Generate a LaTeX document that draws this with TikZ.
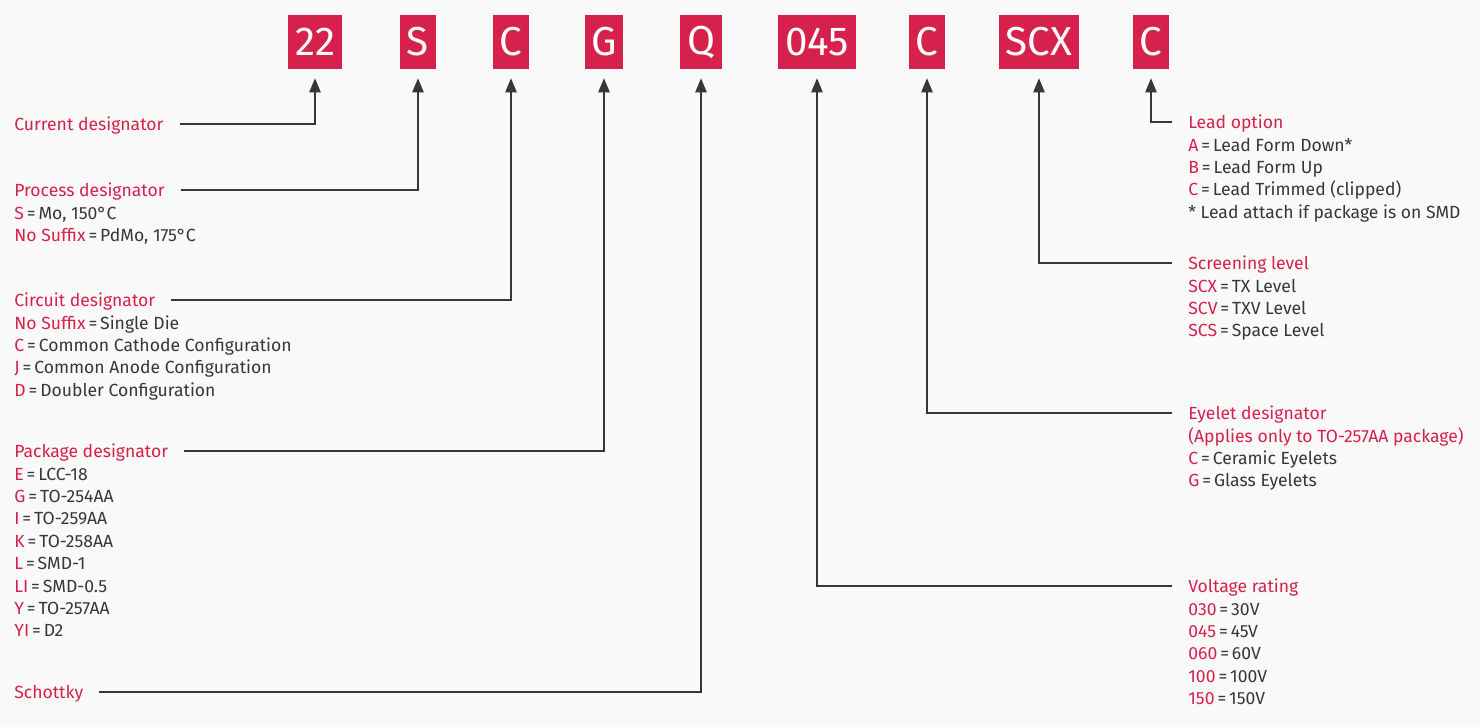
\documentclass[tikz,border=0pt]{standalone}
\usepackage{fontspec}
\setmainfont{Fira Sans}
\usetikzlibrary{arrows.meta, positioning}
\definecolor{crimson}{RGB}{213,33,75}
\definecolor{ink}{RGB}{55,55,55}
\definecolor{paper}{RGB}{249,249,249}
\newcommand{\kv}[2]{\textcolor{crimson}{#1}\,=\,#2}

\begin{document}
\begin{tikzpicture}[x=0.02cm, y=-0.02cm,
  code/.style={fill=crimson, text=white, font=\fontsize{23}{23}\selectfont, minimum height=1.1cm, inner xsep=3.8pt},
  head/.style={text=crimson, font=\fontsize{10}{12.75}\selectfont, inner sep=0pt, text height=6.9pt, text depth=0pt},
  items/.style={text=ink, font=\fontsize{10}{12.75}\selectfont, inner sep=0pt, align=left},
  conn/.style={draw=ink, line width=0.7pt, -{Triangle[length=8pt,width=6.5pt]}, shorten <=9pt, shorten >=4.8pt}
]
  \useasboundingbox[fill=paper] (0,0) rectangle (1480,727);

  % part number boxes
  \node[code] (b22)  at (315,42)  {22};
  \node[code] (bS)   at (418,42)  {S};
  \node[code] (bC)   at (511,42)  {C};
  \node[code] (bG)   at (604,42)  {G};
  \node[code] (bQ)   at (701,42)  {Q};
  \node[code] (b045) at (817,42)  {045};
  \node[code] (bEye) at (927,42)  {C};
  \node[code] (bSCX) at (1039,42) {SCX};
  \node[code] (bLd)  at (1151,42) {C};

  % left column
  \node[head, anchor=west] (hcur) at (14,124) {Current designator};
  \node[head, anchor=west] (hproc) at (14,190) {Process designator};
  \node[items, below=3.75pt of hproc.south west, anchor=north west] (iproc)
    {\strut\kv{S}{Mo, 150°C}\\ \kv{No Suffix}{PdMo, 175°C}};
  \node[head, anchor=west] (hcirc) at (14,300) {Circuit designator};
  \node[items, below=3.75pt of hcirc.south west, anchor=north west] (icirc)
    {\strut\kv{No Suffix}{Single Die}\\ \kv{C}{Common Cathode Configuration}\\
     \kv{J}{Common Anode Configuration}\\ \kv{D}{Doubler Configuration}};
  \node[head, anchor=west] (hpkg) at (14,451) {Package designator};
  \node[items, below=3.75pt of hpkg.south west, anchor=north west] (ipkg)
    {\strut\kv{E}{LCC-18}\\ \kv{G}{TO-254AA}\\ \kv{I}{TO-259AA}\\ \kv{K}{TO-258AA}\\
     \kv{L}{SMD-1}\\ \kv{LI}{SMD-0.5}\\ \kv{Y}{TO-257AA}\\ \kv{YI}{D2}};
  \node[head, anchor=west] (hsch) at (14,692) {Schottky};

  % right column
  \node[head, anchor=west] (hlead) at (1188,122) {Lead option};
  \node[items, below=3.75pt of hlead.south west, anchor=north west] (ilead)
    {\strut\kv{A}{Lead Form Down*}\\ \kv{B}{Lead Form Up}\\
     \kv{C}{Lead Trimmed (clipped)}\\ * Lead attach if package is on SMD};
  \node[head, anchor=west] (hscr) at (1188,263) {Screening level};
  \node[items, below=3.75pt of hscr.south west, anchor=north west] (iscr)
    {\strut\kv{SCX}{TX Level}\\ \kv{SCV}{TXV Level}\\ \kv{SCS}{Space Level}};
  \node[head, anchor=west] (heye) at (1188,413) {Eyelet designator};
  \node[items, below=3.75pt of heye.south west, anchor=north west] (ieye)
    {\strut\textcolor{crimson}{(Applies only to TO-257AA package)}\\
     \kv{C}{Ceramic Eyelets}\\ \kv{G}{Glass Eyelets}};
  \node[head, anchor=west] (hvolt) at (1188,586) {Voltage rating};
  \node[items, below=3.75pt of hvolt.south west, anchor=north west] (ivolt)
    {\strut\kv{030}{30V}\\ \kv{045}{45V}\\ \kv{060}{60V}\\ \kv{100}{100V}\\ \kv{150}{150V}};

  % connectors
  \draw[conn] (hcur.east)  -| (b22.south);
  \draw[conn] (hproc.east) -| (bS.south);
  \draw[conn] (hcirc.east) -| (bC.south);
  \draw[conn] (hpkg.east)  -| (bG.south);
  \draw[conn] (hsch.east)  -| (bQ.south);
  \draw[conn] (hvolt.west) -| (b045.south);
  \draw[conn] (heye.west)  -| (bEye.south);
  \draw[conn] (hscr.west)  -| (bSCX.south);
  \draw[conn] (hlead.west) -| (bLd.south);
\end{tikzpicture}
\end{document}
